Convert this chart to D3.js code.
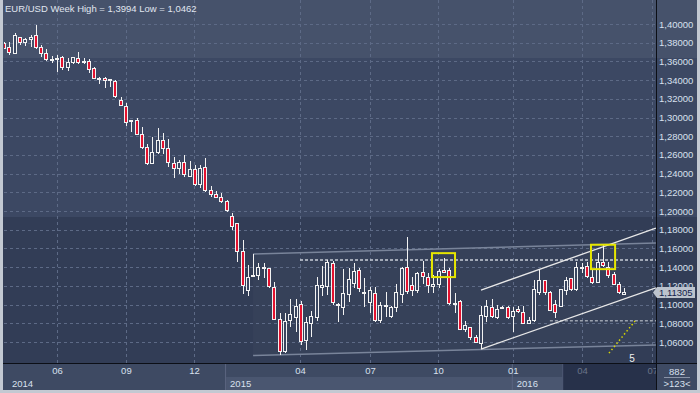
<!DOCTYPE html>
<html>
<head>
<meta charset="utf-8">
<script src="https://cdn.jsdelivr.net/npm/d3@7"></script>
<style>
	body { margin: 0; background: #c3c9d2; }
	svg { display: block; font-family: "Liberation Sans", Arial, sans-serif; }
</style>
</head>
<body>
<div id="chart-area"></div>
<script>
// weekly EUR/USD candles
const opens = [1.3794,1.3751,1.3687,1.3858,1.3804,1.3836,1.3872,1.3751,1.3687,1.3617,
	1.3622,1.3644,1.3537,1.3586,1.3633,1.3590,1.3601,1.3526,1.3412,1.3419,
	1.3398,1.3390,1.3187,1.3123,1.2955,1.2963,1.2820,1.2681,1.2510,1.2624,
	1.2759,1.2671,1.2510,1.2457,1.2521,1.2367,1.2446,1.2286,1.2467,1.2225,
	1.2179,1.2147,1.2107,1.1946,1.1868,1.1572,1.1148,1.1305,1.1308,1.1383,
	1.1387,1.1184,1.0842,1.0495,1.0827,1.0863,1.1002,1.0613,1.0799,1.0863,
	1.1184,1.1190,1.1441,1.0992,1.0970,1.1109,1.1227,1.1362,1.1123,1.1019,
	1.1120,1.0834,1.0981,1.0870,1.0970,1.1112,1.1396,1.1209,1.1150,1.1344,
	1.1287,1.1198,1.1216,1.1366,1.1362,1.1005,1.1037,1.0738,1.0752,1.0649,
	1.0585,1.0877,1.0970,1.0859,1.0966,1.0970,1.0877,1.0949,1.0917,1.0799,
	1.0827,1.1126,1.1255,1.1126,1.1005,1.0984,1.1155,1.1280,1.1163,1.1390,
	1.1412,1.1291,1.1233,1.1451,1.1394,1.1326,1.1219,1.1112]
const highs = [1.3811,1.3811,1.3901,1.3864,1.3847,1.3882,1.3994,1.3775,1.3729,1.3658,
	1.3668,1.3658,1.3633,1.3650,1.3697,1.3640,1.3626,1.3543,1.3436,1.3430,
	1.3412,1.3401,1.3216,1.3152,1.2976,1.2991,1.2895,1.2713,1.2795,1.2885,
	1.2837,1.2767,1.2574,1.2546,1.2599,1.2535,1.2492,1.2492,1.2564,1.2273,
	1.2219,1.2189,1.2114,1.1979,1.1875,1.1690,1.1423,1.1540,1.1444,1.1449,
	1.1396,1.1237,1.0906,1.0906,1.1056,1.1059,1.1037,1.0863,1.0930,1.1297,
	1.1412,1.1476,1.1465,1.1019,1.1380,1.1394,1.1441,1.1387,1.1280,1.1190,
	1.1190,1.1030,1.1131,1.0984,1.1216,1.1398,1.1725,1.1300,1.1351,1.1468,
	1.1334,1.1316,1.1380,1.1494,1.1387,1.1120,1.1048,1.0824,1.0763,1.0674,
	1.0984,1.1048,1.1056,1.0995,1.0984,1.0987,1.0977,1.0984,1.0984,1.0863,
	1.1262,1.1377,1.1262,1.1142,1.1048,1.1169,1.1291,1.1287,1.1458,1.1447,
	1.1458,1.1369,1.1554,1.1636,1.1451,1.1351,1.1244,1.1173]
const lows = [1.3729,1.3668,1.3679,1.3775,1.3765,1.3757,1.3733,1.3650,1.3608,1.3580,
	1.3490,1.3508,1.3501,1.3569,1.3572,1.3569,1.3479,1.3409,1.3358,1.3319,
	1.3329,1.3212,1.3123,1.2914,1.2848,1.2813,1.2663,1.2492,1.2500,1.2610,
	1.2606,1.2474,1.2356,1.2392,1.2367,1.2360,1.2267,1.2243,1.2206,1.2153,
	1.2139,1.2089,1.1989,1.1800,1.1458,1.1112,1.1094,1.1294,1.1265,1.1280,
	1.1173,1.0834,1.0462,1.0478,1.0763,1.0709,1.0567,1.0513,1.0656,1.0824,
	1.1091,1.1102,1.0995,1.0816,1.0888,1.1030,1.1173,1.1137,1.0977,1.0912,
	1.0816,1.0799,1.0870,1.0859,1.0917,1.1019,1.1112,1.1091,1.1120,1.1219,
	1.1120,1.1120,1.1173,1.1334,1.0995,1.0906,1.0727,1.0709,1.0620,1.0585,
	1.0524,1.0816,1.0852,1.0845,1.0952,1.0845,1.0709,1.0912,1.0791,1.0788,
	1.0816,1.1102,1.1102,1.0930,1.0852,1.0977,1.1102,1.1144,1.1148,1.1334,
	1.1280,1.1219,1.1227,1.1404,1.1287,1.1209,1.1112,1.1109]
const closes = [1.3740,1.3697,1.3882,1.3800,1.3829,1.3858,1.3747,1.3687,1.3622,1.3622,
	1.3633,1.3537,1.3590,1.3644,1.3586,1.3604,1.3516,1.3419,1.3419,1.3401,
	1.3406,1.3230,1.3126,1.2947,1.2963,1.2820,1.2677,1.2510,1.2628,1.2759,
	1.2671,1.2521,1.2457,1.2521,1.2392,1.2446,1.2286,1.2457,1.2225,1.2179,
	1.2147,1.2100,1.2008,1.1840,1.1565,1.1203,1.1291,1.1312,1.1398,1.1401,
	1.1190,1.0845,1.0495,1.0824,1.0895,1.0984,1.0602,1.0810,1.0877,1.1209,
	1.1209,1.1451,1.1023,1.1000,1.1120,1.1270,1.1351,1.1173,1.1131,1.1148,
	1.0834,1.0987,1.0987,1.0970,1.1126,1.1387,1.1144,1.1150,1.1337,1.1305,
	1.1209,1.1219,1.1358,1.1340,1.1013,1.1016,1.0738,1.0773,1.0645,1.0596,
	1.0880,1.0984,1.0877,1.0952,1.0973,1.0859,1.0923,1.0923,1.0799,1.0834,
	1.1163,1.1262,1.1131,1.0934,1.0917,1.1163,1.1262,1.1163,1.1394,1.1398,
	1.1298,1.1233,1.1451,1.1415,1.1308,1.1219,1.1126,1.11305]

// axis ticks (week index of each month start) and labels
const priceTicks = d3.range(1.06, 1.4001, 0.02)
const monthTicks = [10, 23, 35.85, 55.85, 69.05, 81.9, 96, 109.05, 122.3]
const monthLabels = ["06", "09", "12", "04", "07", "10", "01", "04", "07"]
const yearStarts = [-1, 41.9, 96]
const yearLabels = ["2014", "2015", "2016"]

// drawn objects: [week, price]
const grayChannel = [[47, 1.1540, 1.0455], [123, 1.1659, 1.0568]]
const whiteChannel = [[90, 1.1155, 1.0524], [123, 1.1818, 1.1180]]
const levelLines = [[55.85, 1.1476], [103, 1.0827]]
const boxes = [[80.75, 85.1, 1.1550, 1.1294], [110.75, 115.3, 1.1640, 1.1379]]
const waveDots = [[114.15, 1.0481], [119.06, 1.0824]]
const waveLabel = [118.5, 1.0428, "5"]

const W = 700, H = 393
const PLOT = { LEFT: 4, RIGHT: 656, TOP: 0, BOTTOM: 363 }
const comma = v => v.toString().replace(".", ",")

const svg = d3.select("#chart-area").append("svg")
	.attr("width", W)
	.attr("height", H)

const x = d3.scaleLinear().domain([0, 117]).range([4, 624.1])
const y = d3.scaleLinear().domain([1.06, 1.40]).range([342, 24])

// frame and background bands
svg.append("rect").attr("width", W).attr("height", H).attr("fill", "#c3c9d2")
const bands = [[0, 58, "#46526b"], [58, 217, "#3c4863"], [217, 363, "#323d56"]]
svg.selectAll(".band").data(bands).enter().append("rect")
	.attr("x", 3).attr("y", d => d[0])
	.attr("width", W - 6).attr("height", d => d[1] - d[0])
	.attr("fill", d => d[2])

// bottom time panel
svg.append("rect").attr("x", 3).attr("y", 364).attr("width", W - 6).attr("height", 26).attr("fill", "#3e4a63")
const yearG = svg.append("g")
yearG.selectAll("rect").data(yearStarts.slice(1)).enter().append("rect")
	.attr("x", d => x(d))
	.attr("y", 377)
	.attr("width", (d, i) => (i === 0 ? x(yearStarts[2]) : x(105.5)) - x(d))
	.attr("height", 13)
	.attr("fill", "#4a5670")
svg.append("rect").attr("x", x(105.5)).attr("y", 364).attr("width", PLOT.RIGHT - x(105.5)).attr("height", 26).attr("fill", "#27314a")
svg.selectAll(".ysep").data(yearStarts.slice(1)).enter().append("line")
	.attr("x1", d => x(d) - 0.5).attr("x2", d => x(d) - 0.5)
	.attr("y1", 364).attr("y2", 390)
	.attr("stroke", "#5b6681")
svg.append("line").attr("x1", x(105.5) - 0.5).attr("x2", x(105.5) - 0.5)
	.attr("y1", 364).attr("y2", 390).attr("stroke", "#4c5772")

svg.append("clipPath").attr("id", "plot-clip").append("rect")
	.attr("x", PLOT.LEFT).attr("y", PLOT.TOP)
	.attr("width", PLOT.RIGHT - PLOT.LEFT).attr("height", PLOT.BOTTOM - PLOT.TOP)
svg.append("clipPath").attr("id", "time-clip").append("rect")
	.attr("x", PLOT.LEFT).attr("y", 364).attr("width", PLOT.RIGHT - PLOT.LEFT).attr("height", 26)

const g = svg.append("g").attr("clip-path", "url(#plot-clip)")

// gray channel fill
g.append("path")
	.attr("d", `M${x(grayChannel[0][0])},${y(grayChannel[0][1])}L${x(grayChannel[1][0])},${y(grayChannel[1][1])}L${x(grayChannel[1][0])},${y(grayChannel[1][2])}L${x(grayChannel[0][0])},${y(grayChannel[0][2])}Z`)
	.attr("fill", "rgba(255,255,255,0.025)")

// grid
g.selectAll(".hgrid").data(priceTicks).enter().append("line")
	.attr("x1", PLOT.LEFT).attr("x2", PLOT.RIGHT)
	.attr("y1", d => Math.round(y(d)) + 0.5).attr("y2", d => Math.round(y(d)) + 0.5)
	.attr("stroke", "#5d6a86").attr("stroke-dasharray", "3,3")
g.selectAll(".vgrid").data(monthTicks).enter().append("line")
	.attr("x1", d => Math.round(x(d)) + 0.5).attr("x2", d => Math.round(x(d)) + 0.5)
	.attr("y1", PLOT.TOP).attr("y2", PLOT.BOTTOM)
	.attr("stroke", "#5d6a86").attr("stroke-dasharray", "3,3")

// gray channel lines
g.selectAll(".gch").data([1, 2]).enter().append("line")
	.attr("x1", x(grayChannel[0][0])).attr("y1", d => y(grayChannel[0][d]))
	.attr("x2", x(grayChannel[1][0])).attr("y2", d => y(grayChannel[1][d]))
	.attr("stroke", "#79849a").attr("stroke-width", 1.5)

// horizontal levels
g.selectAll(".lvl").data(levelLines).enter().append("line")
	.attr("x1", d => x(d[0])).attr("x2", PLOT.RIGHT)
	.attr("y1", d => y(d[1])).attr("y2", d => y(d[1]))
	.attr("stroke", (d, i) => i === 0 ? "#c9ced8" : "#9aa1ae")
	.attr("stroke-width", 1.5)
	.attr("stroke-dasharray", "3,2")

// white channel
g.selectAll(".wch").data([1, 2]).enter().append("line")
	.attr("x1", x(whiteChannel[0][0])).attr("y1", d => y(whiteChannel[0][d]))
	.attr("x2", x(whiteChannel[1][0])).attr("y2", d => y(whiteChannel[1][d]))
	.attr("stroke", "#e8e8e8").attr("stroke-width", 1.3)

// candles
const candles = d3.range(opens.length).map(i => ({ i, o: opens[i], h: highs[i], l: lows[i], c: closes[i] }))
const cg = g.selectAll(".candle").data(candles).enter().append("g")
	.attr("shape-rendering", "crispEdges")
cg.append("line")
	.attr("x1", d => Math.round(x(d.i)) + 0.5).attr("x2", d => Math.round(x(d.i)) + 0.5)
	.attr("y1", d => y(d.h)).attr("y2", d => y(d.l))
	.attr("stroke", "#f2f2f2")
cg.append("rect")
	.attr("x", d => Math.round(x(d.i)) - 1.5)
	.attr("width", 3)
	.attr("y", d => y(Math.max(d.o, d.c)))
	.attr("height", d => Math.max(1, Math.abs(y(d.o) - y(d.c))))
	.attr("fill", d => d.c < d.o ? "#e3122f" : "#3a4660")
	.attr("stroke", "#f2f2f2")

// yellow boxes and dotted wave line
g.selectAll(".box").data(boxes).enter().append("rect")
	.attr("x", d => x(d[0])).attr("width", d => x(d[1]) - x(d[0]))
	.attr("y", d => y(d[2])).attr("height", d => y(d[3]) - y(d[2]))
	.attr("fill", "none").attr("stroke", "#e6e600").attr("stroke-width", 2)
g.append("line")
	.attr("x1", x(waveDots[0][0])).attr("y1", y(waveDots[0][1]))
	.attr("x2", x(waveDots[1][0])).attr("y2", y(waveDots[1][1]))
	.attr("stroke", "#d8d800").attr("stroke-width", 1.5).attr("stroke-dasharray", "1.5,2.5")
g.append("text")
	.attr("x", x(waveLabel[0])).attr("y", y(waveLabel[1]) + 3.5)
	.attr("text-anchor", "middle").attr("font-size", "10px").attr("fill", "#f0f0f0")
	.text(waveLabel[2])

// title
svg.append("text")
	.attr("x", 5).attr("y", 12)
	.attr("font-size", "9.5px").attr("fill", "#e0e6f0")
	.text(`EUR/USD Week High = ${comma(d3.max(highs))} Low = ${comma(d3.min(lows))}`)

// price axis
const yAxisCall = d3.axisRight(y)
	.tickValues(priceTicks)
	.tickSize(0)
	.tickPadding(3)
	.tickFormat(d => d.toFixed(5).replace(".", ","))
const yAxis = svg.append("g")
	.attr("class", "y axis")
	.attr("transform", `translate(${PLOT.RIGHT}, 0)`)
	.call(yAxisCall)
yAxis.select(".domain").remove()
yAxis.selectAll("text").attr("fill", "#d8e0ee").attr("font-size", "9.5px")
	.attr("font-family", "\"Liberation Sans\", Arial, sans-serif")

// month axis
const xAxisCall = d3.axisBottom(x)
	.tickValues(monthTicks)
	.tickSize(0)
	.tickPadding(4)
	.tickFormat((d, i) => monthLabels[i])
const xAxis = svg.append("g")
	.attr("clip-path", "url(#time-clip)")
	.append("g")
	.attr("class", "x axis")
	.attr("transform", `translate(0, ${PLOT.BOTTOM})`)
	.call(xAxisCall)
xAxis.select(".domain").remove()
xAxis.selectAll("text")
	.attr("fill", d => d > 105.5 ? "#6b7589" : "#d8e0ee")
	.attr("font-size", "9.5px")
	.attr("font-family", "\"Liberation Sans\", Arial, sans-serif")

svg.selectAll(".year").data(yearLabels).enter().append("text")
	.attr("x", (d, i) => Math.max(x(yearStarts[i]), 8) + 4)
	.attr("y", 387)
	.attr("font-size", "9.5px").attr("fill", "#d8e0ee")
	.text(d => d)

// panel borders
svg.append("line").attr("x1", PLOT.RIGHT + 0.5).attr("x2", PLOT.RIGHT + 0.5).attr("y1", 0).attr("y2", 390).attr("stroke", "#0c0f16")
svg.append("line").attr("x1", 3).attr("x2", W - 3).attr("y1", PLOT.BOTTOM + 0.5).attr("y2", PLOT.BOTTOM + 0.5).attr("stroke", "#0c0f16")

// last price marker
const last = closes[closes.length - 1]
svg.append("path")
	.attr("d", `M${PLOT.RIGHT - 3},${y(last)}L${PLOT.RIGHT + 1},${y(last) - 5.5}H695V${y(last) + 5.5}H${PLOT.RIGHT + 1}Z`)
	.attr("fill", "#bcc3cd")
svg.append("text")
	.attr("x", PLOT.RIGHT + 3).attr("y", y(last) + 3.5)
	.attr("font-size", "9.5px").attr("fill", "#13224a")
	.text(last.toFixed(5).replace(".", ","))

// corner box
svg.append("text").attr("x", 677).attr("y", 375).attr("text-anchor", "middle")
	.attr("font-size", "9.5px").attr("fill", "#d8e0ee").text("882")
svg.append("line").attr("x1", 664).attr("x2", 690).attr("y1", 377.5).attr("y2", 377.5).attr("stroke", "#8a94a8")
svg.append("text").attr("x", 677).attr("y", 387).attr("text-anchor", "middle")
	.attr("font-size", "9.5px").attr("fill", "#d8e0ee").text(">123<")
</script>
</body>
</html>
